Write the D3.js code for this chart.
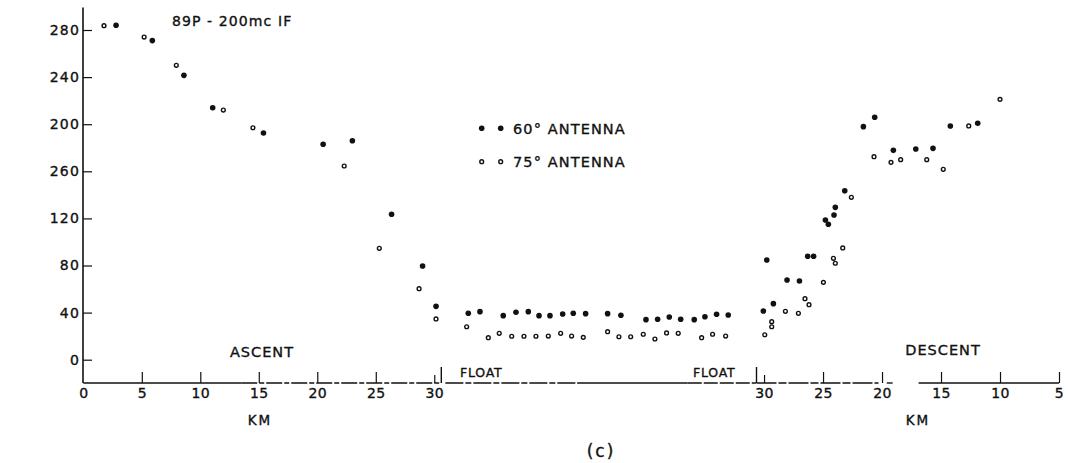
<!DOCTYPE html>
<html lang="en">
<head>
    <meta charset="UTF-8">
    <title>89P - 200mc IF</title>
    <script src="https://d3js.org/d3.v7.min.js"></script>
    <style>
        body { margin: 0; background: #fff; }
        text { font-family: "DejaVu Sans", sans-serif; fill: #111; stroke: #111; stroke-width: 0.35; }
    </style>
</head>
<body>
    <script>
        // ascent: km along the flight
        const ascentKm60 = [2.8, 5.9, 8.6, 11.06, 15.4, 20.5, 23.0, 26.35, 29.0, 30.15];
        const ascentVal60 = [284, 271, 241.5, 214, 192.5, 183, 186, 123.5, 79.6, 45.3];
        const ascentKm75 = [1.77, 5.2, 7.95, 11.97, 14.5, 22.3, 25.3, 28.7, 30.15];
        const ascentVal75 = [283.7, 274, 250, 212, 197, 164.5, 94.6, 60.3, 34.6];

        // float: position along the float segment (no km scale)
        const floatPos60 = [2.15, 3.14, 5.12, 6.2, 7.25, 8.16, 9.09, 10.17, 11.07, 12.12, 13.99, 15.12, 17.25, 18.24, 19.23, 20.2, 21.35, 22.26, 23.25, 24.24];
        const floatVal60 = [39.4, 40.8, 37.4, 40.3, 40.8, 37.4, 37.4, 38.8, 39.4, 39.1, 39.1, 37.7, 34, 34.3, 36.3, 34.3, 34, 36.5, 38.6, 38];
        const floatPos75 = [2.01, 3.85, 4.78, 5.84, 6.88, 7.9, 8.95, 10.0, 10.93, 11.92, 13.99, 14.95, 15.95, 17.02, 18.01, 19.0, 19.99, 21.98, 22.91, 24.02];
        const floatVal75 = [28, 18.7, 22.4, 19.9, 19.9, 19.9, 20.1, 22.4, 20.1, 19, 23.8, 19.5, 19.5, 21.6, 17.6, 22.7, 22.4, 18.7, 21.6, 20.1];

        // descent: km, decreasing to the right
        const descentKm60 = [29.77, 30.06, 29.21, 28.05, 27.0, 26.3, 25.8, 24.8, 24.55, 24.07, 23.96, 23.16, 21.58, 20.62, 19.04, 17.14, 15.68, 14.21, 11.89];
        const descentVal60 = [84.7, 41.4, 47.6, 67.7, 66.8, 87.8, 87.8, 118.6, 115, 122.9, 129.4, 143.5, 197.9, 205.9, 177.8, 179, 179.5, 198.5, 200.8];
        const descentKm75 = [29.94, 29.35, 29.35, 28.19, 27.09, 26.53, 26.19, 24.97, 24.12, 23.96, 23.33, 22.6, 20.68, 19.24, 18.42, 16.21, 14.81, 12.65, 10.0];
        const descentVal75 = [21.2, 32.3, 28.0, 41.1, 39.4, 51.8, 46.7, 65.7, 86.1, 81.9, 94.9, 137.9, 172.4, 167.6, 169.9, 169.9, 161.7, 198.5, 221.1];

        const yTickValues = [0, 40, 80, 120, 160, 200, 240, 280];
        const yTickLabels = ["0", "40", "80", "120", "260", "200", "240", "280"]; // as lettered on the original
        const ascentTicks = [0, 5, 10, 15, 20, 25, 30];
        const descentTicks = [30, 25, 20, 15, 10, 5];

        const W = 1068, H = 463;
        const baseY = 383;

        const svg = d3.select("body").append("svg")
            .attr("width", W)
            .attr("height", H);

        const y = d3.scaleLinear().domain([0, 280]).range([359.7, 30]);
        const xAscent = d3.scaleLinear().domain([0, 30.6]).range([83.3, 441.3]);
        const xFloat = d3.scaleLinear().domain([0, 26.6]).range([443, 756]);
        const xDescent = d3.scaleLinear().domain([30.64, 5]).range([756.5, 1059]);

        // y axis
        svg.append("line")
            .attr("x1", 83).attr("x2", 83)
            .attr("y1", y(300) + 1).attr("y2", baseY)
            .attr("stroke", "#111").attr("stroke-width", 1.6);

        const yAxis = svg.append("g")
            .attr("transform", "translate(83,0)")
            .call(d3.axisLeft(y)
                .tickValues(yTickValues)
                .tickSizeInner(-9)
                .tickSizeOuter(0)
                .tickPadding(3)
                .tickFormat((d, i) => yTickLabels[i]));
        yAxis.select(".domain").remove();
        yAxis.selectAll("line").attr("stroke", "#111").attr("stroke-width", 1.2);
        yAxis.selectAll("text")
            .attr("font-family", "DejaVu Sans")
            .attr("font-size", 14)
            .attr("letter-spacing", 1.2)
            .attr("fill", "#111");

        // baseline, partly broken like the original trace
        const baseSegs = [
            { s: xAscent, a: 0, b: 13.5, dash: null },
            { s: xAscent, a: 13.5, b: 30.6, dash: "16,2,5,2" },
            { s: xFloat, a: 0.2, b: 11.4, dash: "18,2,6,2" },
            { s: xFloat, a: 11.4, b: 20.8, dash: null },
            { s: xFloat, a: 20.8, b: 26.6, dash: "14,2" },
            { s: xDescent, a: 30.64, b: 20.3, dash: "20,2,8,2" },
            { s: xDescent, a: 19.6, b: 19.1, dash: null },
            { s: xDescent, a: 16.9, b: 5, dash: null }
        ];
        svg.append("g").selectAll("line")
            .data(baseSegs)
            .join("line")
            .attr("x1", d => d.s(d.a)).attr("x2", d => d.s(d.b))
            .attr("y1", baseY).attr("y2", baseY)
            .attr("stroke", "#111")
            .attr("stroke-width", 1.4)
            .attr("stroke-dasharray", d => d.dash);

        function bottomAxis(scale, ticks) {
            const g = svg.append("g")
                .attr("transform", `translate(0,${baseY})`)
                .call(d3.axisBottom(scale)
                    .tickValues(ticks)
                    .tickSizeInner(-11)
                    .tickSizeOuter(0)
                    .tickPadding(5)
                    .tickFormat(d3.format("d")));
            g.select(".domain").remove();
            g.selectAll("line").attr("stroke", "#111").attr("stroke-width", 1.2)
                .attr("y2", d => d === 30 ? -8 : (d === 0 ? 0 : -11));
            g.selectAll("text")
                .attr("font-family", "DejaVu Sans")
                .attr("font-size", 14)
                .attr("letter-spacing", 0.4)
                .attr("fill", "#111");
            return g;
        }
        bottomAxis(xAscent, ascentTicks);
        bottomAxis(xDescent, descentTicks);

        // section separators
        [xAscent(30.6), xDescent(30.64)].forEach(x => {
            svg.append("line")
                .attr("x1", x).attr("x2", x)
                .attr("y1", baseY - 16).attr("y2", baseY)
                .attr("stroke", "#111").attr("stroke-width", 1.4);
        });

        // points
        function dots(xs, vals, scale, filled) {
            const pts = xs.map((k, i) => ({ k: k, v: vals[i] }));
            svg.append("g").selectAll("circle")
                .data(pts)
                .join("circle")
                .attr("cx", d => scale(d.k))
                .attr("cy", d => y(d.v))
                .attr("r", filled ? 2.8 : 1.9)
                .attr("fill", filled ? "#111" : "#fff")
                .attr("stroke", "#111")
                .attr("stroke-width", filled ? 0 : 1.4);
        }
        dots(ascentKm60, ascentVal60, xAscent, true);
        dots(ascentKm75, ascentVal75, xAscent, false);
        dots(floatPos60, floatVal60, xFloat, true);
        dots(floatPos75, floatVal75, xFloat, false);
        dots(descentKm60, descentVal60, xDescent, true);
        dots(descentKm75, descentVal75, xDescent, false);

        // legend
        const legend = [
            { label: "60° ANTENNA", filled: true, y: 128.3 },
            { label: "75° ANTENNA", filled: false, y: 161.7 }
        ];
        legend.forEach(l => {
            [481.7, 500.7].forEach(cx => {
                svg.append("circle")
                    .attr("cx", cx).attr("cy", l.y)
                    .attr("r", l.filled ? 2.8 : 1.9)
                    .attr("fill", l.filled ? "#111" : "#fff")
                    .attr("stroke", "#111")
                    .attr("stroke-width", l.filled ? 0 : 1.4);
            });
            svg.append("text")
                .attr("x", 513).attr("y", l.y + 5.5)
                .attr("font-size", 14.5)
                .attr("letter-spacing", 1.1)
                .text(l.label);
        });

        // labels
        const label = (txt, x, yy, size, ls, anchor) => svg.append("text")
            .attr("x", x).attr("y", yy)
            .attr("font-size", size)
            .attr("letter-spacing", ls)
            .attr("text-anchor", anchor || "middle")
            .text(txt);

        label("89P - 200mc IF", 172, 25.5, 14, 1.1, "start");
        label("ASCENT", 262, 357, 14.5, 1);
        label("DESCENT", 943, 355, 14.5, 1);
        label("FLOAT", 460, 377, 12.5, 0.8, "start");
        label("FLOAT", 693, 377, 12.5, 0.8, "start");
        label("KM", 260, 425, 13.5, 2);
        label("KM", 918, 425, 13.5, 2);
        label("(c)", 601, 457, 17, 2);
    </script>
</body>
</html>
